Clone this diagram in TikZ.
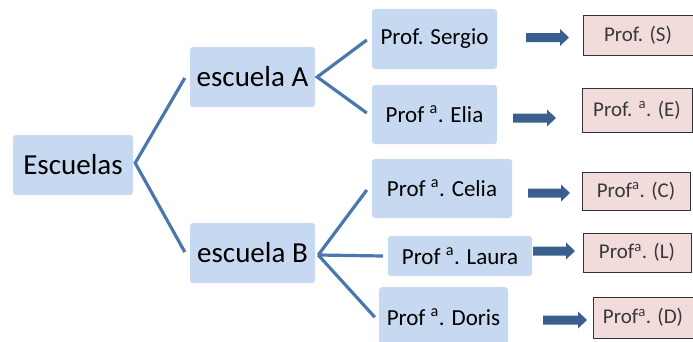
\documentclass[tikz,border=0pt]{standalone}
\usepackage{fontspec}
\setmainfont{Carlito}
\usetikzlibrary{calc}
\definecolor{boxblue}{HTML}{C6D9F0}
\definecolor{linkblue}{HTML}{4A78AE}
\definecolor{arrowblue}{HTML}{3A5F8E}
\definecolor{pinkfill}{HTML}{F2DCDB}
\definecolor{pinktext}{HTML}{383838}
\begin{document}
\begin{tikzpicture}[x=1pt,y=1pt,
  bluebox/.style={fill=boxblue,draw=none,rounded corners=3pt,inner sep=0pt,text=black},
  bigtxt/.style={font=\fontsize{29}{32}\selectfont},
  midtxt/.style={font=\fontsize{23}{26}\selectfont},
  pinkbox/.style={fill=pinkfill,draw=black!80,line width=0.8pt,inner sep=0pt,text=pinktext,font=\fontsize{21}{24}\selectfont},
  link/.style={draw=linkblue,line width=3.2pt},
  pics/blockarrow/.style={code={\fill[arrowblue] (0,-4.5) -- ({#1-9},-4.5) -- ({#1-9},-8.5) -- (#1,0) -- ({#1-9},8.5) -- ({#1-9},4.5) -- (0,4.5) -- cycle;}},
]
\useasboundingbox (0,0) rectangle (693,341);
% level 0 and 1
\node[bluebox,bigtxt,minimum width=120,minimum height=60] (esc) at (73,176) {Escuelas};
\node[bluebox,bigtxt,minimum width=125,minimum height=60] (escA) at (252.5,264) {escuela A};
\node[bluebox,bigtxt,minimum width=125,minimum height=60] (escB) at (252.5,88) {escuela B};
% level 2
\node[bluebox,midtxt,minimum width=125,minimum height=60] (sergio) at (434.5,302) {Prof. Sergio};
\node[bluebox,midtxt,minimum width=125,minimum height=59] (elia) at (434.5,226.5) {Prof \textsuperscript{a}. Elia};
\node[bluebox,midtxt,minimum width=140,minimum height=59] (celia) at (442,152.5) {Prof \textsuperscript{a}. Celia};
\node[bluebox,midtxt,minimum width=144,minimum height=40] (laura) at (460,85) {Prof \textsuperscript{a}. Laura};
\node[bluebox,midtxt,minimum width=129,minimum height=60,anchor=north] (doris) at (443.5,54) {Prof \textsuperscript{a}. Doris};
% level 3
\node[pinkbox,minimum width=110,minimum height=40] (pS) at (638,306) {Prof. (S)};
\node[pinkbox,minimum width=110,minimum height=44] (pE) at (637,231) {Prof. \textsuperscript{a}. (E)};
\node[pinkbox,minimum width=108,minimum height=38] (pC) at (636,150) {Prof\textsuperscript{a}. (C)};
\node[pinkbox,minimum width=108,minimum height=39] (pL) at (637,88.5) {Prof\textsuperscript{a}. (L)};
\node[pinkbox,minimum width=100,minimum height=41] (pD) at (643,23.5) {Prof\textsuperscript{a}. (D)};
% block arrows
\coordinate (aS) at (526,303.5);
\coordinate (aE) at (513,223);
\coordinate (aC) at (528,148);
\coordinate (aL) at (533,90);
\coordinate (aD) at (543,21);
\pic at (aS) {blockarrow=43};
\pic at (aE) {blockarrow=43};
\pic at (aC) {blockarrow=42};
\pic at (aL) {blockarrow=42};
\pic at (aD) {blockarrow=44};
% connectors
\coordinate (j0) at ($(esc.east)+(2,2)$);
\coordinate (jA) at ($(escA.east)+(2,0)$);
\coordinate (jB) at ($(escB.east)+(3,-2)$);
\draw[link] ($(escA.west)+(-5,-1)$) -- (j0) -- ($(escB.west)+(-5,1)$);
\draw[link] ($(sergio.west)+(-5,-1)$) -- (jA) -- ($(elia.west)+(-5,1.5)$);
\draw[link] ($(celia.west)+(-5,-1.5)$) -- (jB);
\draw[link] (jB) -- ($(laura.west)+(-5,0)$);
\draw[link] (jB) -- ($(doris.west)+(-4,0)$);
\end{tikzpicture}
\end{document}
